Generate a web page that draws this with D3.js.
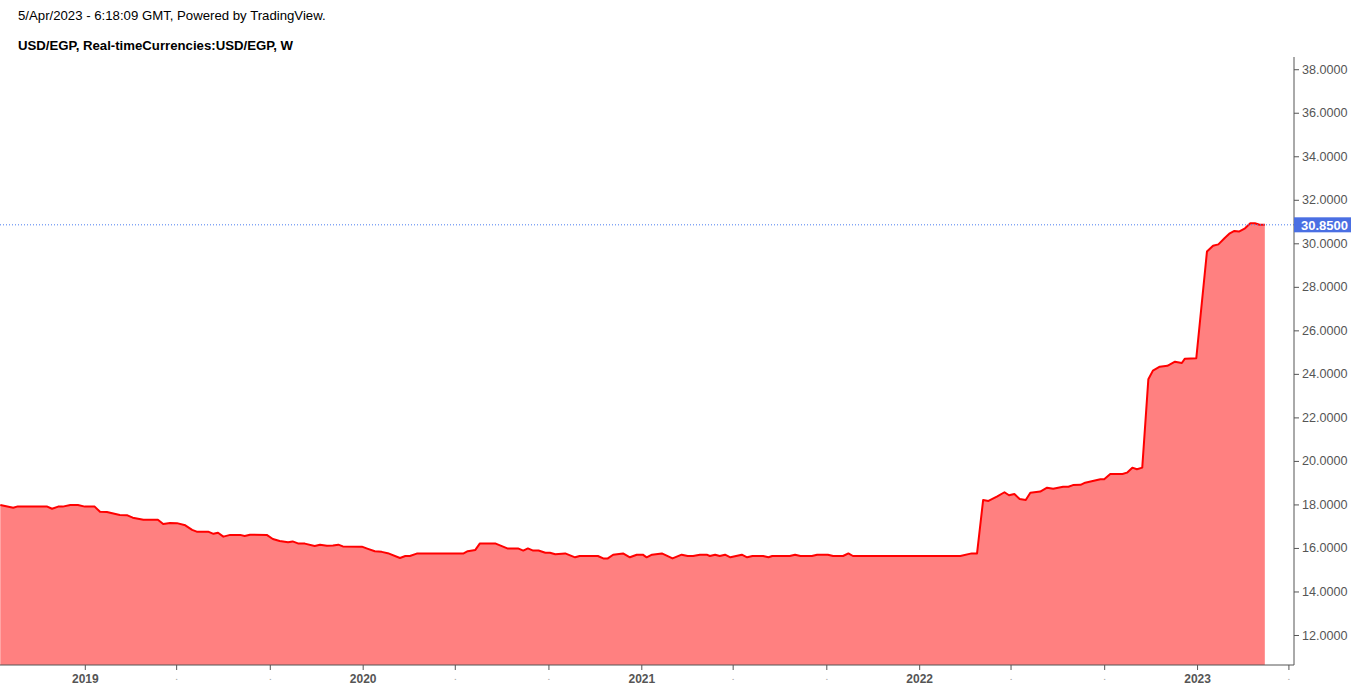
<!DOCTYPE html>
<html><head><meta charset="utf-8">
<script src="https://cdn.jsdelivr.net/npm/d3@7"></script>
<style>body{margin:0;background:#fff;font-family:"Liberation Sans",Arial,sans-serif}</style>
</head><body><svg id="c" width="1357" height="692"></svg>
<script>
const dates = ["2018-09-12","2018-09-29","2018-10-05","2018-11-12","2018-11-19","2018-11-27","2018-12-03","2018-12-13","2018-12-23","2019-01-01","2019-01-14","2019-01-21","2019-01-30","2019-02-16","2019-02-26","2019-03-05","2019-03-19","2019-04-07","2019-04-14","2019-04-23","2019-05-02","2019-05-13","2019-05-22","2019-05-28","2019-06-12","2019-06-19","2019-06-25","2019-07-02","2019-07-11","2019-07-24","2019-07-30","2019-08-06","2019-08-28","2019-09-05","2019-09-14","2019-09-25","2019-10-01","2019-10-08","2019-10-17","2019-10-30","2019-11-06","2019-11-15","2019-11-23","2019-11-30","2019-12-06","2019-12-31","2020-01-07","2020-01-17","2020-01-26","2020-02-03","2020-02-19","2020-02-26","2020-03-03","2020-03-12","2020-05-12","2020-05-18","2020-05-28","2020-06-03","2020-06-23","2020-07-09","2020-07-23","2020-07-30","2020-08-05","2020-08-12","2020-08-19","2020-08-28","2020-09-03","2020-09-10","2020-09-23","2020-10-06","2020-10-12","2020-11-05","2020-11-12","2020-11-18","2020-11-25","2020-12-08","2020-12-17","2020-12-26","2021-01-03","2021-01-08","2021-01-15","2021-01-28","2021-02-11","2021-02-23","2021-03-03","2021-03-10","2021-03-19","2021-03-28","2021-04-01","2021-04-08","2021-04-14","2021-04-21","2021-04-28","2021-05-13","2021-05-20","2021-05-27","2021-06-10","2021-06-17","2021-06-22","2021-07-15","2021-07-22","2021-07-29","2021-08-13","2021-08-20","2021-09-03","2021-09-10","2021-09-23","2021-09-30","2021-10-06","2022-02-24","2022-03-11","2022-03-18","2022-03-26","2022-04-02","2022-04-13","2022-04-23","2022-04-29","2022-05-06","2022-05-13","2022-05-21","2022-05-27","2022-06-09","2022-06-18","2022-06-26","2022-07-09","2022-07-16","2022-07-22","2022-08-01","2022-08-07","2022-08-27","2022-09-01","2022-09-09","2022-09-25","2022-10-01","2022-10-08","2022-10-14","2022-10-21","2022-10-29","2022-11-04","2022-11-13","2022-11-23","2022-12-03","2022-12-12","2022-12-16","2022-12-31","2023-01-14","2023-01-22","2023-01-29","2023-02-06","2023-02-13","2023-02-19","2023-02-25","2023-03-05","2023-03-12","2023-03-18","2023-03-24","2023-03-31"];
const prices = [17.97,17.85,17.91,17.91,17.80,17.90,17.90,17.97,17.97,17.90,17.90,17.66,17.65,17.51,17.50,17.39,17.30,17.30,17.10,17.15,17.14,17.04,16.83,16.75,16.75,16.65,16.70,16.52,16.60,16.60,16.55,16.61,16.60,16.41,16.32,16.26,16.30,16.21,16.20,16.09,16.15,16.10,16.11,16.15,16.07,16.06,15.97,15.85,15.82,15.76,15.54,15.63,15.63,15.74,15.74,15.85,15.91,16.21,16.21,15.98,15.98,15.88,15.98,15.88,15.88,15.78,15.78,15.71,15.75,15.57,15.63,15.63,15.52,15.52,15.69,15.75,15.57,15.69,15.69,15.57,15.69,15.75,15.52,15.69,15.63,15.63,15.69,15.69,15.63,15.69,15.63,15.69,15.57,15.69,15.57,15.63,15.63,15.57,15.63,15.63,15.69,15.63,15.63,15.69,15.69,15.63,15.63,15.75,15.63,15.63,15.75,15.75,18.20,18.16,18.36,18.56,18.42,18.48,18.25,18.20,18.54,18.59,18.77,18.72,18.81,18.81,18.89,18.90,19.00,19.16,19.16,19.40,19.40,19.46,19.69,19.62,19.69,23.75,24.15,24.33,24.37,24.56,24.50,24.70,24.72,29.62,29.89,29.95,30.23,30.46,30.57,30.54,30.69,30.92,30.92,30.85,30.85];
const yTicks = [12,14,16,18,20,22,24,26,28,30,32,34,36,38];
const xTicks = ["2019-01-01","2019-05-01","2019-09-01","2020-01-01","2020-05-01","2020-09-01","2021-01-01","2021-05-01","2021-09-01","2022-01-01","2022-05-01","2022-09-01","2023-01-01","2023-05-01"];
const lastPrice = 30.85;
const headerLine = "5/Apr/2023 - 6:18:09 GMT, Powered by TradingView.";
const titleLine = "USD/EGP, Real-timeCurrencies:USD/EGP, W";

(function(){
const parse = d3.utcParse("%Y-%m-%d");
const data = dates.map((d,i)=>({date:parse(d), v:prices[i]}));
const svg = d3.select("#c");
const W = 1294, pTop = 57, pBottom = 665;

const x = d3.scaleUtc().domain([parse("2019-01-01"), parse("2023-01-01")]).range([84.8, 84.8 + 1461*0.7613]);
const y = d3.scaleLinear().domain([10.621, 38.562]).range([pBottom, pTop]);

svg.append("text").attr("x",18).attr("y",20).attr("font-size",13.2).attr("fill","#000").text(headerLine);
svg.append("text").attr("x",18).attr("y",50).attr("font-size",13.2).attr("font-weight","bold").attr("fill","#000").text(titleLine);

svg.append("defs").append("clipPath").attr("id","clip").append("rect").attr("x",0).attr("y",pTop).attr("width",W).attr("height",pBottom-pTop);
const g = svg.append("g").attr("clip-path","url(#clip)");

g.append("path").datum(data).attr("fill","#ff8080")
  .attr("d", d3.area().x(d=>x(d.date)).y0(pBottom).y1(d=>y(d.v)));
g.append("path").datum(data).attr("fill","none").attr("stroke","#ff0000").attr("stroke-width",2).attr("stroke-linejoin","round")
  .attr("d", d3.line().x(d=>x(d.date)).y(d=>y(d.v)));

svg.append("line").attr("x1",0).attr("x2",W).attr("y1",y(lastPrice)).attr("y2",y(lastPrice))
  .attr("stroke","#4a7cf0").attr("stroke-width",1).attr("stroke-dasharray","1,2");

const yAxis = svg.append("g").attr("transform",`translate(${W},0)`)
  .call(d3.axisRight(y).tickValues(yTicks).tickFormat(d3.format(".4f")).tickSize(5).tickPadding(3));
yAxis.select(".domain").attr("stroke","#555").attr("d",`M0,${pTop}V${pBottom}`);
yAxis.selectAll(".tick line").attr("stroke","#555");
yAxis.selectAll("text").attr("fill","#555").attr("font-size",12.6).attr("font-family","Liberation Sans, Arial, sans-serif");

const xAxis = svg.append("g").attr("transform",`translate(0,${pBottom})`)
  .call(d3.axisBottom(x).tickValues(xTicks.map(parse)).tickSize(5).tickPadding(4)
    .tickFormat(d => d.getUTCMonth()===0 ? d3.utcFormat("%Y")(d) : "."));
xAxis.select(".domain").attr("stroke","#555").attr("d",`M0,0H${W}`);
xAxis.selectAll(".tick line").attr("stroke","#555");
xAxis.selectAll("text").attr("fill", d => d.getUTCMonth()===0 ? "#555" : "#aaa")
  .attr("font-size", d => d.getUTCMonth()===0 ? 12 : 8).attr("font-weight","bold")
  .attr("font-family","Liberation Sans, Arial, sans-serif");

const ly = y(lastPrice);
svg.append("rect").attr("x",W).attr("y",ly-7.5).attr("width",57).attr("height",15).attr("fill","#4a6fe3");
svg.append("text").attr("x",W+7).attr("y",ly+4.8).attr("fill","#fff").attr("font-size",13).attr("font-weight","bold").text(d3.format(".4f")(lastPrice));
})();
</script></body></html>
